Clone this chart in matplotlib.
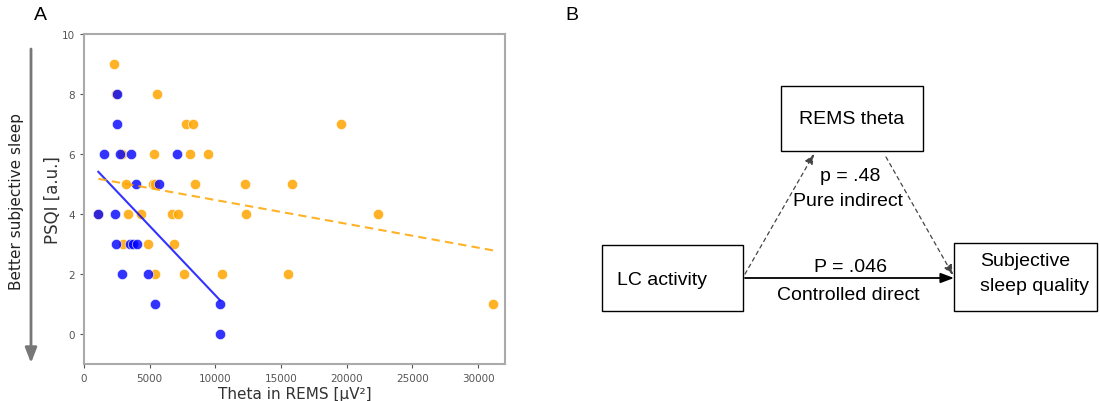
import matplotlib.pyplot as plt
import numpy as np
from matplotlib.patches import Rectangle

# panel A data: theta power in REMS vs PSQI, two groups
blue_theta = [1090, 1520, 2360, 2410, 2490, 2540, 2740, 2920, 3560, 3500, 3750,
              4000, 3940, 4900, 5380, 5710, 7110, 10360, 10360]
blue_psqi = [4, 6, 4, 3, 7, 8, 6, 2, 6, 3, 3, 3, 5, 2, 1, 5, 6, 1, 0]

orange_theta = [2260, 2440, 5590, 7770, 8330, 19540, 2870, 5330, 8100, 9470,
                3170, 5280, 5430, 8480, 12290, 15870, 1100, 3370, 4340, 6680,
                7180, 12310, 22360, 2940, 4850, 6830, 5400, 7620, 10490, 15560,
                31170]
orange_psqi = [9, 8, 8, 7, 7, 7, 6, 6, 6, 6, 5, 5, 5, 5, 5, 5, 4, 4, 4, 4,
               4, 4, 4, 3, 3, 3, 2, 2, 2, 2, 1]

# regression fits (slope, intercept)
blue_fit = (-4.62e-4, 5.91)
orange_fit = (-7.94e-5, 5.26)

xticks = [0, 5000, 10000, 15000, 20000, 25000, 30000]
yticks = [0, 2, 4, 6, 8, 10]

# panel B labels
p_indirect = 'p = .48'
p_direct = 'P = .046'

W, H = 1100, 402
fig = plt.figure(figsize=(11, 4.02), dpi=100)

ax = fig.add_axes([84 / W, 1 - 365 / H, 421 / W, 330 / H])
ax.scatter(orange_theta, orange_psqi, s=55, color='orange', alpha=0.85,
           edgecolor='white', linewidth=0.5, zorder=2)
ax.scatter(blue_theta, blue_psqi, s=55, color='blue', alpha=0.8,
           edgecolor='white', linewidth=0.5, zorder=3)

bx = np.array([min(blue_theta), max(blue_theta)])
ax.plot(bx, blue_fit[0] * bx + blue_fit[1], color='blue', lw=1.5, alpha=0.8, zorder=4)
ox = np.array([min(orange_theta), max(orange_theta)])
ax.plot(ox, orange_fit[0] * ox + orange_fit[1], color='orange', lw=1.5,
        ls=(0, (4, 2.5)), alpha=0.85, zorder=4)

ax.set_xlim(0, 32050)
ax.set_ylim(-1, 10)
ax.set_xticks(xticks)
ax.set_yticks(yticks)
ax.tick_params(labelsize=7.5, colors='#555555', length=3, width=0.8)
for sp in ax.spines.values():
    sp.set_color('#aaaaaa')
    sp.set_linewidth(1.5)
ax.set_xlabel('Theta in REMS [µV²]', fontsize=11, color='#333333', labelpad=2)
ax.set_ylabel('PSQI [a.u.]', fontsize=12, color='#333333', labelpad=0)

# whole-figure overlay in pixel coordinates
ov = fig.add_axes([0, 0, 1, 1], zorder=-1)
ov.set_xlim(0, W)
ov.set_ylim(H, 0)
ov.axis('off')

ov.annotate('', xy=(31, 364), xytext=(31, 50),
            arrowprops=dict(arrowstyle='-|>,head_width=0.35,head_length=0.9',
                            color='#777777', lw=2, shrinkA=0, shrinkB=0))
ov.text(17, 202, 'Better subjective sleep', rotation=90, ha='center', va='center',
        fontsize=11, color='#222222')

ov.text(40, 15, 'A', fontsize=14, ha='center', va='center', family='Liberation Sans')
ov.text(572, 15, 'B', fontsize=14, ha='center', va='center', family='Liberation Sans')

fam = 'Liberation Sans'
boxes = [(781, 87, 142, 65), (602, 246, 141, 66), (954, 244, 143, 68)]
for x0, y0, w, h in boxes:
    ov.add_patch(Rectangle((x0, y0), w, h, fill=False, ec='black', lw=1))

ov.text(852, 120, 'REMS theta', fontsize=14, ha='center', va='center', family=fam)
ov.text(662, 281, 'LC activity', fontsize=14, ha='center', va='center', family=fam)
ov.text(980, 274, 'Subjective\nsleep quality', fontsize=14, ha='left', va='center',
        family=fam, linespacing=1.6)

ov.annotate('', xy=(814, 155), xytext=(745, 275),
            arrowprops=dict(arrowstyle='-|>,head_width=0.25,head_length=0.6',
                            color='#444444', lw=0.9, ls=(0, (3, 3)),
                            shrinkA=0, shrinkB=0))
ov.annotate('', xy=(953, 276), xytext=(886, 158),
            arrowprops=dict(arrowstyle='-|>,head_width=0.25,head_length=0.6',
                            color='#444444', lw=0.9, ls=(0, (3, 3)),
                            shrinkA=0, shrinkB=0))
ov.annotate('', xy=(954, 279), xytext=(745, 279),
            arrowprops=dict(arrowstyle='-|>,head_width=0.3,head_length=0.8',
                            color='black', lw=1.3, shrinkA=0, shrinkB=0))

ov.text(850, 177, p_indirect, fontsize=14, ha='center', va='center', family=fam)
ov.text(848, 202, 'Pure indirect', fontsize=14, ha='center', va='center', family=fam)
ov.text(850, 268, p_direct, fontsize=14, ha='center', va='center', family=fam)
ov.text(848, 296, 'Controlled direct', fontsize=14, ha='center', va='center', family=fam)

fig.savefig('out.png', dpi=100)
